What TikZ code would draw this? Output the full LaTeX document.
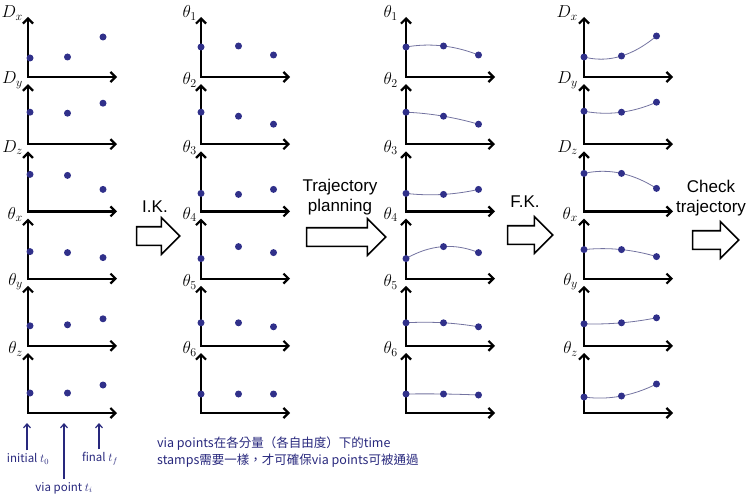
\documentclass[tikz,border=0pt]{standalone}
\usepackage{fontspec}
\setmainfont{Liberation Sans}
\newfontfamily\notefont{Noto Sans CJK TC}
\usetikzlibrary{arrows.meta, shapes.arrows, positioning}
\definecolor{dotblue}{RGB}{48,48,138}
\definecolor{noteblue}{RGB}{40,40,125}
\definecolor{trajgray}{RGB}{115,115,160}

\begin{document}
\begin{tikzpicture}[x=1pt, y=-1pt,
        axis/.style={line width=2.2pt,
                     {Straight Barb[length=5pt,width=10pt]}-{Straight Barb[length=5pt,width=10pt]}},
        dot/.style={circle, fill=dotblue, inner sep=0pt, minimum size=7pt},
        traj/.style={line width=0.8pt, trajgray},
        varlbl/.style={font=\fontsize{17}{19}\selectfont, anchor=east, inner sep=0pt},
        blk/.style={single arrow, draw, line width=1.6pt, fill=white, inner xsep=0pt,
                    inner ysep=8.5pt, single arrow head extend=9pt},
        blklbl/.style={font=\fontsize{17}{20}\selectfont, align=center, inner sep=0pt},
        note/.style={font=\notefont\fontsize{11.5}{14}\selectfont, text=noteblue, inner sep=0pt},
        ptr/.style={-{Straight Barb[length=4pt,width=7pt]}, line width=1.2pt, noteblue,
                    shorten <=3pt},
    ]
    \useasboundingbox (0,0) rectangle (749,500);

    % Column 1: via points of the Cartesian components
    \foreach \p/\lbl/\ha/\hb/\hc in {1/D_x/19/20/40, 2/D_y/32/31/41, 3/D_z/37/36/22,
                                    4/\theta_x/27/26/21, 5/\theta_y/20/21/27, 6/\theta_z/20/20/28} {
        \pgfmathsetmacro\base{77+67.2*(\p-1)}
        \draw[axis] (28,\base-60) -- (28,\base) -- (117,\base);
        \node[varlbl] (v-1-\p) at (23,\base-64) {$\lbl$};
        \node[dot] (d-1-\p-1) at (30,\base-\ha) {};
        \node[dot] (d-1-\p-2) at (67.5,\base-\hb) {};
        \node[dot] (d-1-\p-3) at (103,\base-\hc) {};
    }

    % Column 2: joint values after I.K.
    \foreach \p/\ha/\hb/\hc in {1/30/31/22, 2/32/28/20, 3/18/17/22,
                               4/20/32/26, 5/23/23/19, 6/19/19/19} {
        \pgfmathsetmacro\base{77+67.2*(\p-1)}
        \draw[axis] (201,\base-60) -- (201,\base) -- (290,\base);
        \node[varlbl] (v-2-\p) at (197,\base-64) {$\theta_{\p}$};
        \node[dot] (d-2-\p-1) at (201,\base-\ha) {};
        \node[dot] (d-2-\p-2) at (238.5,\base-\hb) {};
        \node[dot] (d-2-\p-3) at (273.5,\base-\hc) {};
    }

    % Column 3: planned joint trajectories
    \foreach \p/\ha/\hb/\hc in {1/30/31/22, 2/32/28/20, 3/18/17/22,
                               4/20/32/26, 5/23/23/19, 6/19/19/18} {
        \pgfmathsetmacro\base{77+67.2*(\p-1)}
        \draw[axis] (406,\base-60) -- (406,\base) -- (495,\base);
        \node[varlbl] (v-3-\p) at (398,\base-64) {$\theta_{\p}$};
        \draw[traj] plot[domain=0:72.5, samples=30, variable=\t]
            ({406+\t}, {\base-(\ha*((\t-37.5)/37.5)*((\t-72.5)/72.5)
                              +\hb*(\t/37.5)*((72.5-\t)/35)
                              +\hc*(\t/72.5)*((\t-37.5)/35))});
        \node[dot] (d-3-\p-1) at (406,\base-\ha) {};
        \node[dot] (d-3-\p-2) at (443.5,\base-\hb) {};
        \node[dot] (d-3-\p-3) at (478.5,\base-\hc) {};
    }

    % Column 4: Cartesian trajectories after F.K.
    \foreach \p/\lbl/\ha/\hb/\hc in {1/D_x/20/21/41, 2/D_y/33/32/42, 3/D_z/38/38/23,
                                    4/\theta_x/29/29/22, 5/\theta_y/22/23/28, 6/\theta_z/16/17/29} {
        \pgfmathsetmacro\base{77+67.2*(\p-1)}
        \draw[axis] (584,\base-60) -- (584,\base) -- (673,\base);
        \node[varlbl] (v-4-\p) at (578,\base-64) {$\lbl$};
        \draw[traj] plot[domain=0:72.5, samples=30, variable=\t]
            ({584+\t}, {\base-(\ha*((\t-37.5)/37.5)*((\t-72.5)/72.5)
                              +\hb*(\t/37.5)*((72.5-\t)/35)
                              +\hc*(\t/72.5)*((\t-37.5)/35))});
        \node[dot] (d-4-\p-1) at (584,\base-\ha) {};
        \node[dot] (d-4-\p-2) at (621.5,\base-\hb) {};
        \node[dot] (d-4-\p-3) at (656.5,\base-\hc) {};
    }

    % Block arrows between the columns
    \node[blk, minimum height=43pt] (ik) at (153.5,236) {};
    \node[blklbl] (iklbl) at (155,207) {I.K.};
    \node[blk, minimum height=79pt] (plan) at (341.5,237) {};
    \node[blklbl] (planlbl) at (340,197) {Trajectory\\planning};
    \node[blk, minimum height=45pt] (fk) at (525.5,235) {};
    \node[blklbl] (fklbl) at (525,202) {F.K.};
    \node[blk, minimum height=46pt] (check) at (711,240) {};
    \node[blklbl] (checklbl) at (711,198) {Check\\trajectory};

    % Time stamps under the first column
    \coordinate (t0) at (27,423);
    \coordinate (ti) at (64,423);
    \coordinate (tf) at (99,423);
    \node[note] (init) at (28,459) {initial $t_0$};
    \node[note] (final) at (100,459) {final $t_f$};
    \node[note] (via) at (64,488) {via point $t_i$};
    \draw[ptr] (t0 |- init.north) -- (t0);
    \draw[ptr] (ti |- via.north) -- (ti);
    \draw[ptr] (tf |- final.north) -- (tf);

    \node[note, anchor=north west, align=left, font=\notefont\fontsize{12.5}{17}\selectfont]
        (stamps) at (157,437) {via points在各分量（各自由度）下的time\\stamps需要一樣，才可確保via points可被通過};
\end{tikzpicture}
\end{document}
